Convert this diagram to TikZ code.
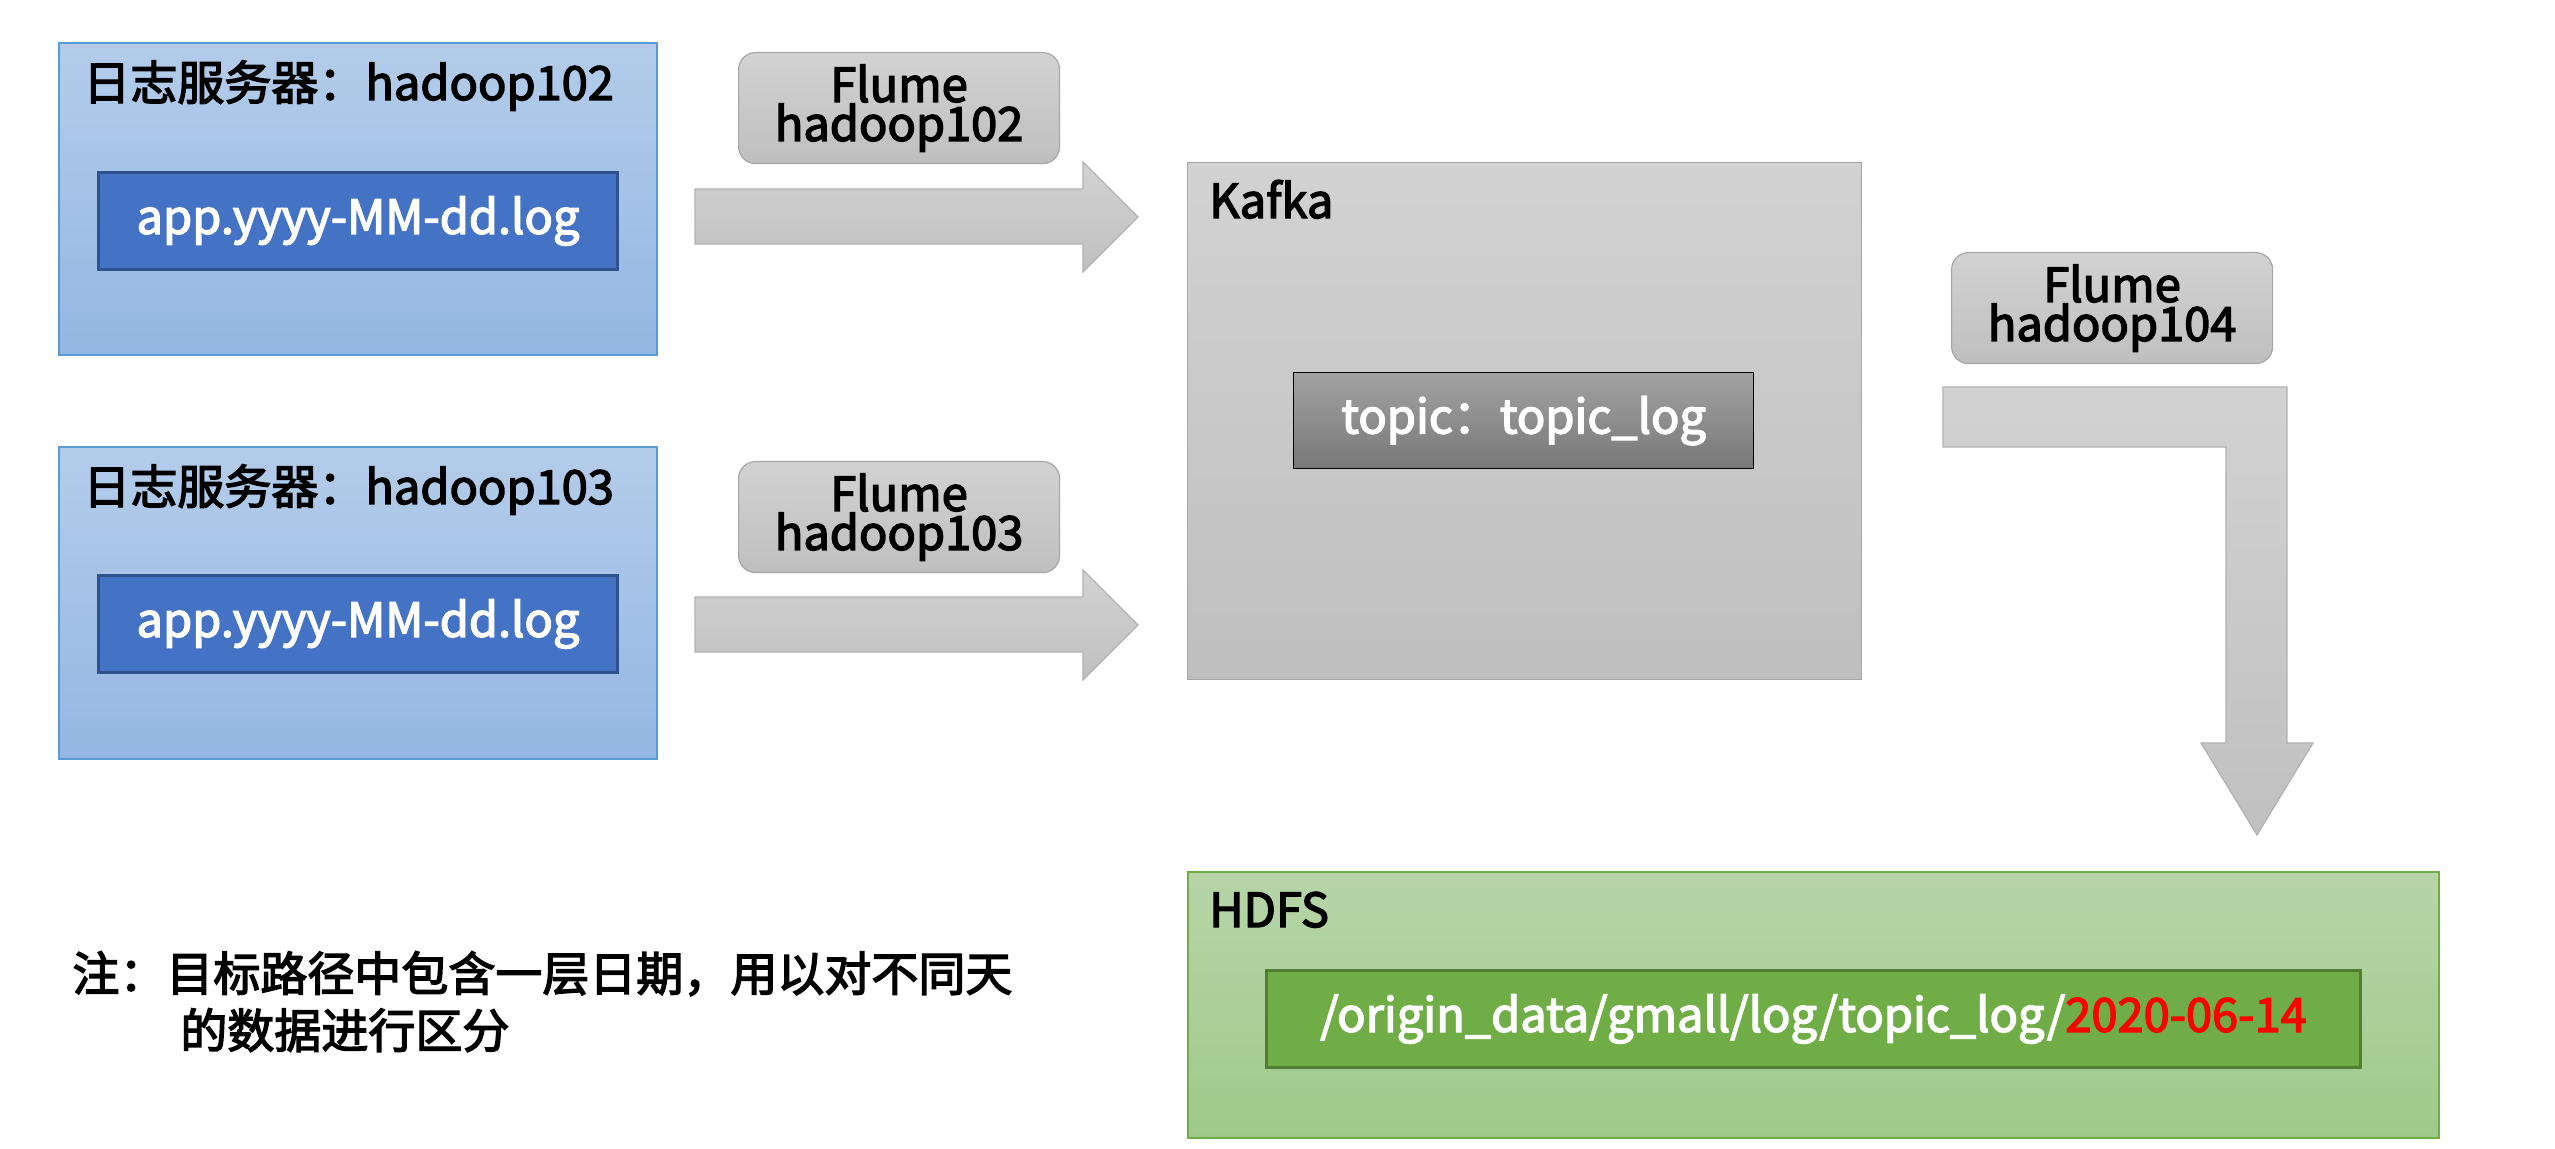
\documentclass[tikz,border=0pt]{standalone}
\usepackage{fontspec}
\setmainfont[FakeBold=3]{Noto Sans CJK SC}
\definecolor{srvtop}{HTML}{B4CCEA}
\definecolor{srvbot}{HTML}{93B7E3}
\definecolor{srvline}{HTML}{5B9BD5}
\definecolor{logfill}{HTML}{4472C4}
\definecolor{logline}{HTML}{2F528F}
\definecolor{graytop}{HTML}{D2D2D2}
\definecolor{graybot}{HTML}{BFBFBF}
\definecolor{grayline}{HTML}{A6A6A6}
\definecolor{topictop}{HTML}{A2A2A2}
\definecolor{topicbot}{HTML}{787878}
\definecolor{arrtop}{HTML}{D2D2D2}
\definecolor{arrbot}{HTML}{C0C0C0}
\definecolor{arrline}{HTML}{B2B2B2}
\definecolor{hdfstop}{HTML}{B7D5A8}
\definecolor{hdfsbot}{HTML}{9FC98A}
\definecolor{hdfsline}{HTML}{70AD47}
\definecolor{pathfill}{HTML}{70AD47}
\definecolor{pathline}{HTML}{507E32}
\definecolor{datered}{HTML}{FF0000}
\begin{document}
\begin{tikzpicture}[x=0.5pt,y=-0.5pt,
  txt/.style={font=\fontsize{23.5pt}{28pt}\selectfont, inner sep=0pt},
  server/.style={rectangle, draw=srvline, line width=0.8pt, top color=srvtop, bottom color=srvbot,
    anchor=north west, inner sep=0pt, minimum width=299pt, minimum height=156pt},
  logbox/.style={rectangle, draw=logline, line width=1.5pt, fill=logfill, text=white,
    anchor=north west, inner sep=0pt, minimum width=259.5pt, minimum height=48.5pt,
    font=\fontsize{23.5pt}{28pt}\selectfont},
  flumebox/.style={rectangle, rounded corners=8.5pt, draw=grayline, line width=0.6pt,
    top color=graytop, bottom color=graybot, anchor=north west, inner sep=0pt,
    minimum width=160.5pt, minimum height=55.5pt, align=center,
    font=\fontsize{23.5pt}{19.5pt}\selectfont},
  kafkabox/.style={rectangle, draw=grayline, line width=0.6pt, top color=graytop, bottom color=graybot,
    anchor=north west, inner sep=0pt, minimum width=337pt, minimum height=258.5pt},
  topicbox/.style={rectangle, draw=black, line width=0.6pt, top color=topictop, bottom color=topicbot,
    text=white, anchor=north west, inner sep=0pt, minimum width=230pt, minimum height=48pt,
    font=\fontsize{23.5pt}{28pt}\selectfont},
  hdfsbox/.style={rectangle, draw=hdfsline, line width=0.8pt, top color=hdfstop, bottom color=hdfsbot,
    anchor=north west, inner sep=0pt, minimum width=625.5pt, minimum height=133pt},
  pathbox/.style={rectangle, draw=pathline, line width=1.5pt, fill=pathfill, text=white,
    anchor=north west, inner sep=0pt, minimum width=547pt, minimum height=48.5pt,
    font=\fontsize{23.5pt}{28pt}\selectfont},
  blockarrow/.style={draw=arrline, line width=0.6pt, top color=arrtop, bottom color=arrbot}
]
\fill[white] (0,0) rectangle (2555,1149);
\useasboundingbox (0,0) rectangle (2555,1149);

% servers
\node[server] (srv1) at (58,42) {};
\node[txt, anchor=base west] (srv1t) at (83,100) {日志服务器：hadoop102};
\node[logbox] (log1) at (97,171) {app.yyyy-MM-dd.log};

\node[server] (srv2) at (58,446) {};
\node[txt, anchor=base west] (srv2t) at (83,504) {日志服务器：hadoop103};
\node[logbox] (log2) at (97,574) {app.yyyy-MM-dd.log};

% flume labels
\node[flumebox] (fl1) at (738,52) {Flume\\hadoop102};
\node[flumebox] (fl2) at (738,461) {Flume\\hadoop103};
\node[flumebox] (fl3) at (1951,252) {Flume\\hadoop104};

% block arrows
\path[blockarrow] (695,189) -- (1083,189) -- (1083,162) -- (1138,217) -- (1083,272) -- (1083,244) -- (695,244) -- cycle;
\path[blockarrow] (695,597) -- (1083,597) -- (1083,570) -- (1138,625) -- (1083,680) -- (1083,652) -- (695,652) -- cycle;
\path[blockarrow] (1943,387) -- (2287,387) -- (2287,743) -- (2313,743) -- (2257,835) -- (2201,743) -- (2226,743) -- (2226,447) -- (1943,447) -- cycle;

% kafka
\node[kafkabox] (kafka) at (1187,162) {};
\node[txt, anchor=base west] (kafkat) at (1209,218) {Kafka};
\node[topicbox] (topic) at (1293,372) {topic：topic\_log};

% hdfs
\node[hdfsbox] (hdfs) at (1187,871) {};
\node[txt, anchor=base west] (hdfst) at (1209,927) {HDFS};
\node[pathbox] (path) at (1265,969) {/origin\_data/gmall/log/topic\_log/\textcolor{datered}{2020-06-14}};

% note
\node[txt, anchor=base west] (note1) at (72,991) {注：目标路径中包含一层日期，用以对不同天};
\node[txt, anchor=base west] (note2) at (180,1048) {的数据进行区分};
\end{tikzpicture}
\end{document}
